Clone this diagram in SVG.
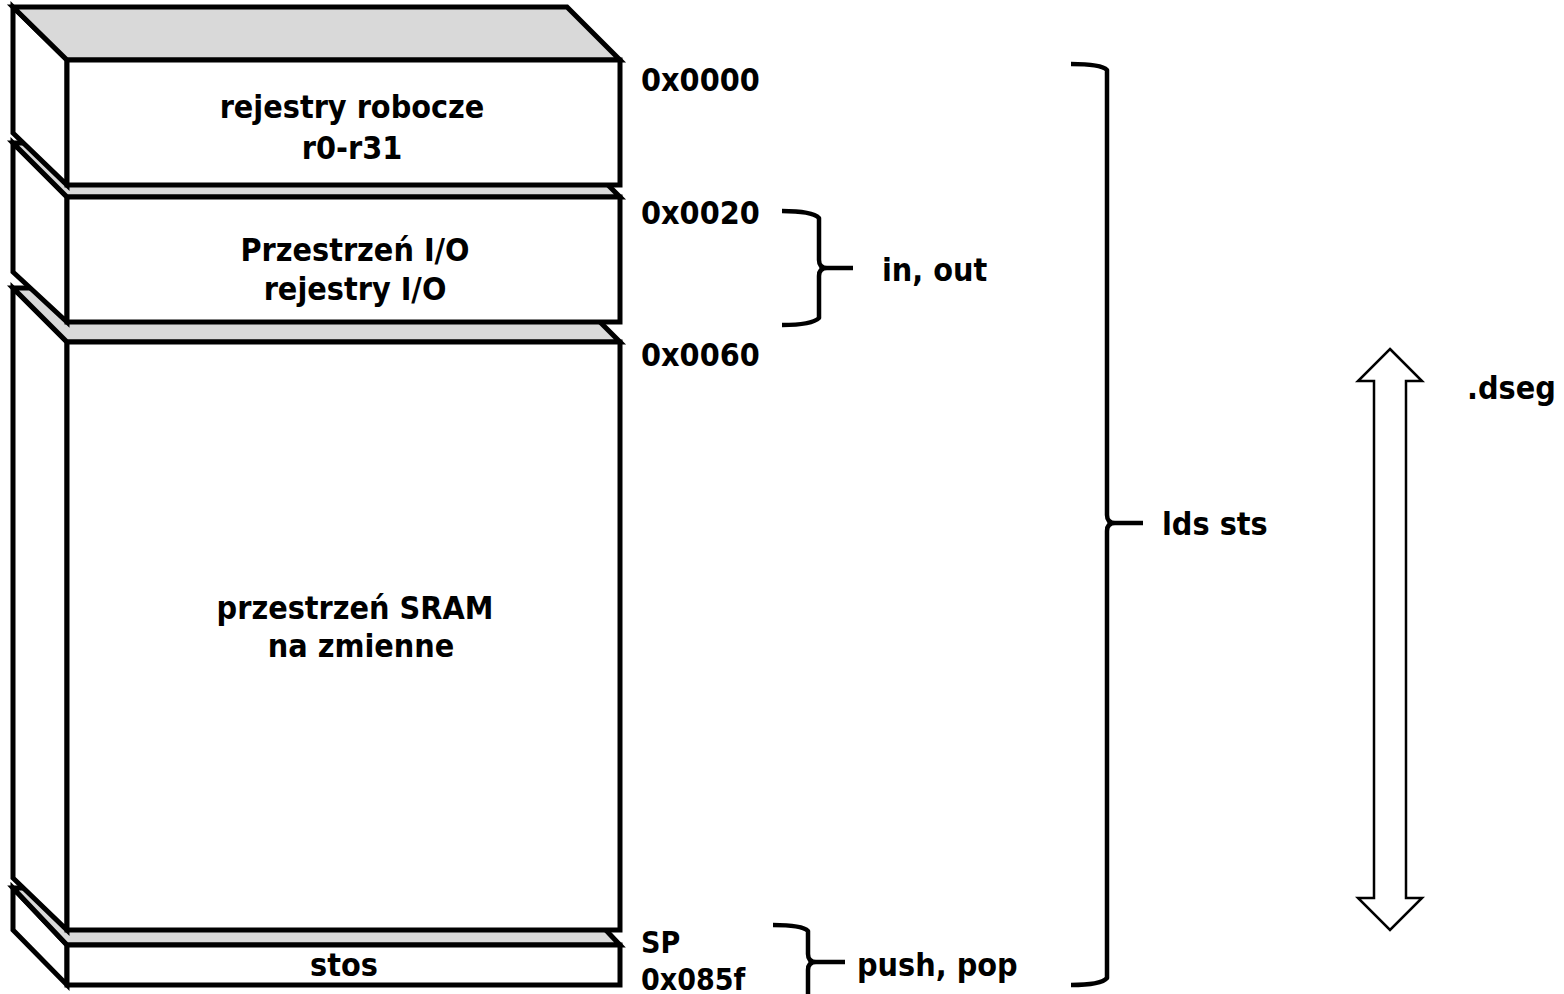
<svg xmlns="http://www.w3.org/2000/svg" width="1564" height="994" viewBox="0 0 1564 994">
<style>
.face{fill:#ffffff;stroke:#000;stroke-width:5;stroke-linejoin:miter}
.top{fill:#d9d9d9;stroke:#000;stroke-width:5;stroke-linejoin:miter}
.brace{fill:none;stroke:#000;stroke-width:4.5;stroke-linecap:butt;stroke-linejoin:round}
.arrow{fill:#fff;stroke:#000;stroke-width:2.5}
text{font-family:"DejaVu Sans Condensed","DejaVu Sans",sans-serif;font-stretch:condensed;font-weight:bold;font-size:32px;fill:#000}
.c{text-anchor:middle}
.s{font-size:30px}
</style>
<rect width="1564" height="994" fill="#fff"/>
<g id="box-stos">
<polygon class="face" points="13,888 67,945 67,985 13,930"/>
<polygon class="top" points="13,888 566,888 620,945 67,945"/>
<rect class="face" x="67" y="945" width="553" height="40"/>
<text class="c" x="344" y="976">stos</text>
</g>
<g id="box-sram">
<polygon class="face" points="13,288 67,342 67,930 13,878"/>
<polygon class="top" points="13,288 566,288 620,342 67,342"/>
<rect class="face" x="67" y="342" width="553" height="588"/>
<text class="c" x="355" y="619">przestrzeń SRAM</text>
<text class="c" x="361" y="657">na zmienne</text>
</g>
<g id="box-io">
<polygon class="face" points="13,143 67,197 67,322 13,272"/>
<polygon class="top" points="13,143 566,143 620,197 67,197"/>
<rect class="face" x="67" y="197" width="553" height="125"/>
<text class="c" x="355" y="261">Przestrzeń I/O</text>
<text class="c" x="355" y="300">rejestry I/O</text>
</g>
<g id="box-rejestry">
<polygon class="face" points="13,7 67,60 67,185 13,133"/>
<polygon class="top" points="13,7 567,7 620,60 67,60"/>
<rect class="face" x="67" y="60" width="553" height="125"/>
<text class="c" x="352" y="118">rejestry robocze</text>
<text class="c" x="352" y="159">r0-r31</text>
</g>
<g id="addresses">
<text x="641" y="91">0x0000</text>
<text x="641" y="224">0x0020</text>
<text x="641" y="366">0x0060</text>
<text class="s" x="641" y="953">SP</text>
<text class="s" x="641" y="990">0x085f</text>
</g>
<g id="connectors">
<path class="brace" d="M782,211 Q812,211 819,218 L819,260 Q819,268 827,268 L853,268 M827,268 Q819,268 819,276 L819,318 Q812,325 782,325"/>
<path class="brace" d="M1071,64 Q1101,64 1107,70 L1107,515 Q1107,523 1115,523 L1143,523 M1115,523 Q1107,523 1107,531 L1107,978 Q1101,985 1071,985"/>
<path class="brace" d="M773,925 Q802,925 808,931 L808,954 Q808,962 816,962 L845,962 M816,962 Q808,962 808,970 L808,1000"/>
<polygon class="arrow" points="1390,349 1422,381 1406,381 1406,898 1422,898 1390,930 1358,898 1374,898 1374,381 1358,381"/>
</g>
<g id="labels">
<text x="882" y="281">in, out</text>
<text x="1162" y="535">lds sts</text>
<text x="857" y="976">push, pop</text>
<text x="1467" y="399">.dseg</text>
</g>
</svg>
